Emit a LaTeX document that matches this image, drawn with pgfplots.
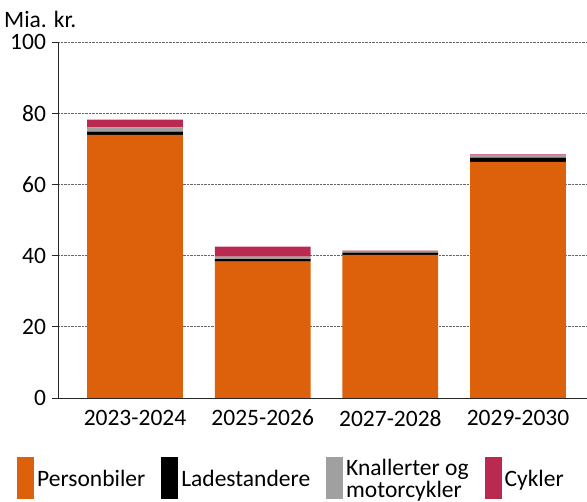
\documentclass[border=0pt]{standalone}
\usepackage{fontspec}
\setmainfont{Carlito}
\usepackage{pgfplots}
\pgfplotsset{compat=1.18}

\definecolor{cPers}{HTML}{DD600A}
\definecolor{cLade}{HTML}{000000}
\definecolor{cKnal}{HTML}{A0A0A0}
\definecolor{cCyk}{HTML}{BA2A50}

\newcommand{\chartfont}{\fontsize{23.5}{22}\selectfont}

\begin{document}
\begin{tikzpicture}
\begin{axis}[
  name=ax,
  scale only axis,
  width=529pt, height=356pt,
  ybar stacked,
  bar width=0.75,
  clip=false,
  xmin=-0.603, xmax=3.54,
  ymin=0, ymax=100,
  ytick={0,20,...,100},
  xtick={0,1,2,3},
  xticklabels={2023-2024,2025-2026,2027-2028,2029-2030},
  axis lines*=left,
  axis line style={black!85, line width=0.7pt},
  xtick style={draw=none},
  ytick style={black!85, line width=0.7pt},
  tick align=outside,
  major tick length=5.5pt,
  ymajorgrids,
  major grid style={densely dotted, black!60, line width=0.7pt},
  /pgf/number format/assume math mode=true,
  ticklabel style={font=\chartfont},
  yticklabel style={xshift=-3pt},
  xticklabel style={yshift=-3pt},
  legend style={draw=none, fill=none, at={(rel axis cs:-0.0775,-0.163)}, anchor=north west,
    inner sep=0pt, font=\chartfont, legend columns=4,
    /tikz/every even column/.append style={column sep=13pt},
    cells={anchor=west, align=left},
    nodes={inner sep=3pt, text depth=0pt}},
  legend image code/.code={\fill[#1,draw=none] (0pt,-21pt) rectangle (17pt,21pt);},
]
\addplot[fill=cPers, draw=none] coordinates {(0,73.9) (1,38.3) (2,40.2) (3,66.3)};
\addplot[fill=cLade, draw=none] coordinates {(0,0.9) (1,0.7) (2,0.6) (3,1.2)};
\addplot[fill=cKnal, draw=none] coordinates {(0,1.2) (1,0.7) (2,0.3) (3,0.7)};
\addplot[fill=cCyk, draw=none] coordinates {(0,2.2) (1,2.8) (2,0.3) (3,0.2)};
\legend{Personbiler, Ladestandere, Knallerter og\\motorcykler, Cykler}
\node[anchor=base west, font=\chartfont, inner sep=0pt] at (rel axis cs:0,1) [xshift=-54pt, yshift=14.7pt] {Mia. kr.};
\end{axis}
\pgfresetboundingbox
\path ([xshift=-58pt,yshift=-104pt]ax.south west) rectangle ([yshift=42pt]ax.north east);
\end{tikzpicture}
\end{document}
